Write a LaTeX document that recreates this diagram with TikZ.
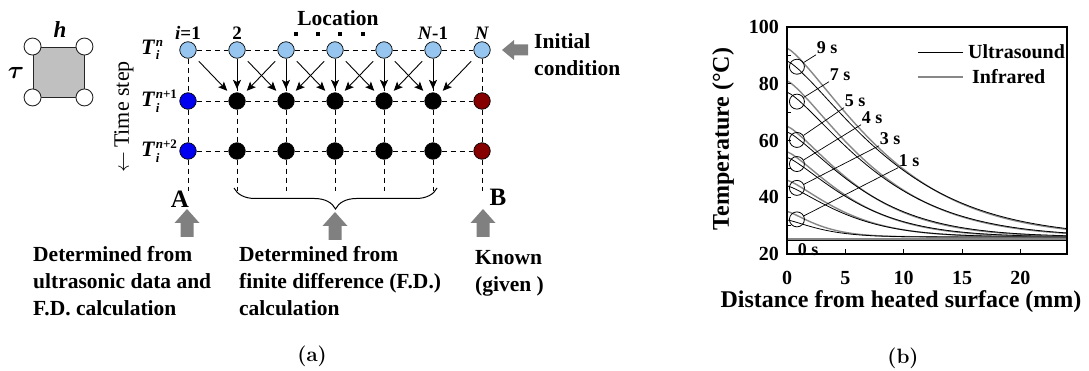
\documentclass[tikz,border=0pt]{standalone}
\usepackage{fontspec}
\newfontfamily\tnr{Liberation Serif}
\usepackage{bm}
\usetikzlibrary{arrows.meta,decorations.pathreplacing}
\definecolor{lblue}{RGB}{150,198,240}
\definecolor{dblue}{RGB}{0,0,240}
\definecolor{dred}{RGB}{135,0,0}
\definecolor{agray}{RGB}{128,128,128}
\definecolor{cgray}{RGB}{135,135,135}
\definecolor{sqgray}{RGB}{192,192,192}
\newcommand\Tlab[1]{\textit{T}\kern0.5pt\rlap{\raisebox{-5.5pt}{\fontsize{13}{13}\selectfont\textit{i}}}\raisebox{8pt}{\fontsize{13}{13}\selectfont#1}}
\newcommand\tcurve[4]{\draw[#1] plot[domain=0.01:24, samples=70, smooth] (\x,{#4-20+(#2-#4)*exp(-((\x/#3)^1.3))});}
\newcommand\capfont{\fontencoding{OT1}\fontfamily{cmr}\fontseries{bx}\fontshape{n}\fontsize{21}{21}\selectfont}
\begin{document}
\begin{tikzpicture}[x=1pt,y=-1pt,
  tnrb/.style={font=\tnr\bfseries\fontsize{21.5}{27}\selectfont, inner sep=0pt, align=left},
  lab/.style={font=\tnr\bfseries\fontsize{19}{22}\selectfont, inner sep=0pt},
  tlab/.style={font=\tnr\bfseries\fontsize{22}{24}\selectfont, inner sep=0pt, anchor=west},
  gnode/.style={circle, draw=black, line width=0.7pt, minimum size=16.5pt, inner sep=0pt},
  cnode/.style={circle, draw=black!85, fill=white, line width=0.9pt, minimum size=17pt, inner sep=0pt},
  dline/.style={dash pattern=on 5pt off 4pt, line width=0.9pt},
  arr/.style={line width=0.9pt, -{Stealth[length=9pt,width=8pt,inset=2pt]}},
  darr/.style={arr, shorten <=7pt, shorten >=5.5pt},
  varr/.style={arr, shorten <=3.5pt, shorten >=3.5pt},
  uparrow/.pic={\fill[agray] (0,0) -- (12.5,14) -- (6.5,14) -- (6.5,28) -- (-6.5,28) -- (-6.5,14) -- (-12.5,14) -- cycle;},
  leftarrow/.pic={\fill[agray] (0,0) -- (12,-10) -- (12,-5.5) -- (26,-5.5) -- (26,5.5) -- (12,5.5) -- (12,10) -- cycle;},
  tcirc/.style={circle, draw=black, line width=0.8pt, minimum size=15pt, inner sep=0pt},
  slab/.style={font=\tnr\bfseries\fontsize{18}{18}\selectfont, inner sep=0.5pt},
  irc/.style={draw=cgray, line width=1.4pt},
  usc/.style={draw=black, line width=0.8pt},
  axlab/.style={font=\tnr\bfseries\fontsize{24}{28}\selectfont, inner sep=0pt},
  ticklab/.style={font=\tnr\bfseries\fontsize{20}{24}\selectfont, inner sep=0pt}
]
\useasboundingbox (0,0) rectangle (1089,371);
\fill[white] (0,0) rectangle (1089,371);

% ---- cell sketch
\node[draw=black!85, fill=sqgray, line width=0.9pt, minimum width=51pt, minimum height=50pt, inner sep=0pt] (cell) at (58.5,72) {};
\node[cnode] (cnw) at (cell.north west) {};
\node[cnode] (cne) at (cell.north east) {};
\node[cnode] (csw) at (cell.south west) {};
\node[cnode] (cse) at (cell.south east) {};
\node[inner sep=0pt, font=\tnr\bfseries\itshape\fontsize{23}{23}\selectfont] (hlab) at (60,30) {h};
\node[inner sep=0pt, font=\fontsize{32}{32}\selectfont] (taulab) at (16,73) {$\bm{\tau}$};

% ---- grid nodes
\foreach \c/\x in {1/188,2/237,3/286,4/335,5/384,6/433,7/482}{
  \node[gnode, fill=lblue] (a\c) at (\x,50) {};
  \coordinate (e\c) at (\x,191);
}
\foreach \c/\x/\col in {1/188/dblue,2/237/black,3/286/black,4/335/black,5/384/black,6/433/black,7/482/dred}{
  \node[gnode, fill=\col] (b\c) at (\x,101) {};
  \node[gnode, fill=\col] (c\c) at (\x,151) {};
}
\foreach \c [evaluate=\c as \d using int(\c+1)] in {1,...,6}{
  \draw[dline] (a\c) -- (a\d);
  \draw[dline] (b\c) -- (b\d);
  \draw[dline] (c\c) -- (c\d);
}
\foreach \c in {1,...,7}{
  \draw[dline] (a\c) -- (b\c);
  \draw[dline] (b\c) -- (c\c);
  \draw[dline] (c\c) -- (e\c);
}
% arrows
\foreach \c [evaluate=\c as \d using int(\c+1)] in {1,...,5}{
  \draw[darr] (a\c) -- (b\d);
}
\foreach \c [evaluate=\c as \d using int(\c+1)] in {2,...,6}{
  \draw[varr] (a\c) -- (b\c);
  \draw[darr] (a\d) -- (b\c);
}

% ---- labels top
\node[lab] (i1) at (188,33) {\textit{i}=1};
\node[lab] (i2) at (237,33) {2};
\node[lab] (iN1) at (433,33) {\textit{N}-1};
\node[lab] (iN) at (482,33) {\textit{N}};
\node[tnrb] (loc) at (338,18) {Location};
\foreach \x in {296,318,340,363}{ \fill (\x-1.7,32.3) rectangle ++(3.4,3.4); }
\node[tlab] (t1) at (141,50) {\Tlab{\textit{n}}};
\node[tlab] (t2) at (141,101) {\Tlab{\textit{n}+1}};
\node[tlab] (t3) at (141,151) {\Tlab{\textit{n}+2}};
\node[rotate=90, anchor=east, inner sep=0pt, font=\tnr\fontsize{22}{22}\selectfont] (tstep) at (124,61) {$\leftarrow$\,Time step};

% initial condition
\pic at (502,50) {leftarrow};
\node[tnrb, anchor=north west] (init) at (534,33) {Initial\\condition};

% brace
\draw[line width=1pt, decorate, decoration={brace, mirror, amplitude=21pt}] (234,188) -- (437,188);

% A, B
\node[inner sep=0pt, font=\tnr\bfseries\fontsize{25}{25}\selectfont] (A) at (180,199) {A};
\node[inner sep=0pt, font=\tnr\bfseries\fontsize{25}{25}\selectfont] (B) at (498,197) {B};
\pic at (187,209) {uparrow};
\pic at (335,212) {uparrow};
\pic at (483,209) {uparrow};

\node[tnrb, anchor=north west] (d1) at (33,246) {Determined from\\ultrasonic data and\\F.D. calculation};
\node[tnrb, anchor=north west] (d2) at (239,246) {Determined from\\finite difference (F.D.)\\calculation};
\node[tnrb, anchor=north west] (d3) at (475,250) {Known\\(given )};

% captions
\node[inner sep=0pt, font=\capfont] (capa) at (312,356) {(a)};
\node[inner sep=0pt, font=\capfont] (capb) at (903,358) {(b)};

% ---- plot (b)
\begin{scope}[shift={(787,254)}, x=11.667pt, y=2.8375pt]
  \begin{scope}
    \clip (0,0) rectangle (24,80);
    \draw[irc] (0,5.3) -- (24,5.3);
    \draw[usc] (0,4.7) -- (24,4.7);
    \tcurve{irc}{92.5}{9.8}{26}
    \tcurve{usc}{88}{10.2}{26}
    \tcurve{irc}{81}{8.65}{26}
    \tcurve{usc}{77}{9.0}{26}
    \tcurve{irc}{65}{7.3}{26}
    \tcurve{usc}{63}{7.6}{26}
    \tcurve{irc}{56}{6.5}{26}
    \tcurve{usc}{54}{6.8}{26}
    \tcurve{irc}{46}{5.7}{26}
    \tcurve{usc}{44}{5.9}{26}
    \tcurve{irc}{35}{3.3}{26}
    \tcurve{usc}{32}{3.5}{26}
  \end{scope}
  \draw[line width=1.2pt] (0,0) rectangle (24,80);
  \foreach \t in {5,10,15,20}{ \draw[line width=1pt] (\t,0) -- (\t,1.8); }
  \foreach \T in {10,20,30,40,50,60,70}{ \draw[line width=1pt] (0,\T) -- (0.35,\T); }
  \node[tcirc] (c9) at (0.85,66) {};
  \node[tcirc] (c7) at (0.85,53.7) {};
  \node[tcirc] (c5) at (0.85,40.2) {};
  \node[tcirc] (c4) at (0.85,31.7) {};
  \node[tcirc] (c3) at (0.85,23.3) {};
  \node[tcirc] (c1) at (0.85,12.2) {};
\end{scope}
\node[slab] (l9) at (827,48) {9 s};
\node[slab] (l7) at (840,75) {7 s};
\node[slab] (l5) at (855,101) {5 s};
\node[slab] (l4) at (872,118) {4 s};
\node[slab] (l3) at (890,139) {3 s};
\node[slab] (l1) at (909,161) {1 s};
\node[slab] (l0) at (808,250) {0 s};
\foreach \n in {9,7,5,4,3,1}{ \draw[line width=0.7pt] (c\n) -- (l\n.south west); }

% legend
\draw[usc] (918,52) -- (963,52);
\node[ticklab, anchor=west] (legu) at (968,52) {Ultrasound};
\draw[irc] (918,77) -- (963,77);
\node[ticklab, anchor=west] (legi) at (972,77) {Infrared};

% tick labels
\foreach \v/\y in {100/27,80/83.75,60/140.5,40/197.25,20/254}{
  \node[ticklab, anchor=east] at (779,\y) {\v};
}
\foreach \v/\x in {0/787,5/845.3,10/903.7,15/962,20/1020.3}{
  \node[ticklab] at (\x,278) {\v};
}
\node[axlab] (xlab) at (901,302) {Distance from heated surface (mm)};
\node[axlab, rotate=90] (ylab) at (723,139) {Temperature (°C)};
\end{tikzpicture}
\end{document}
